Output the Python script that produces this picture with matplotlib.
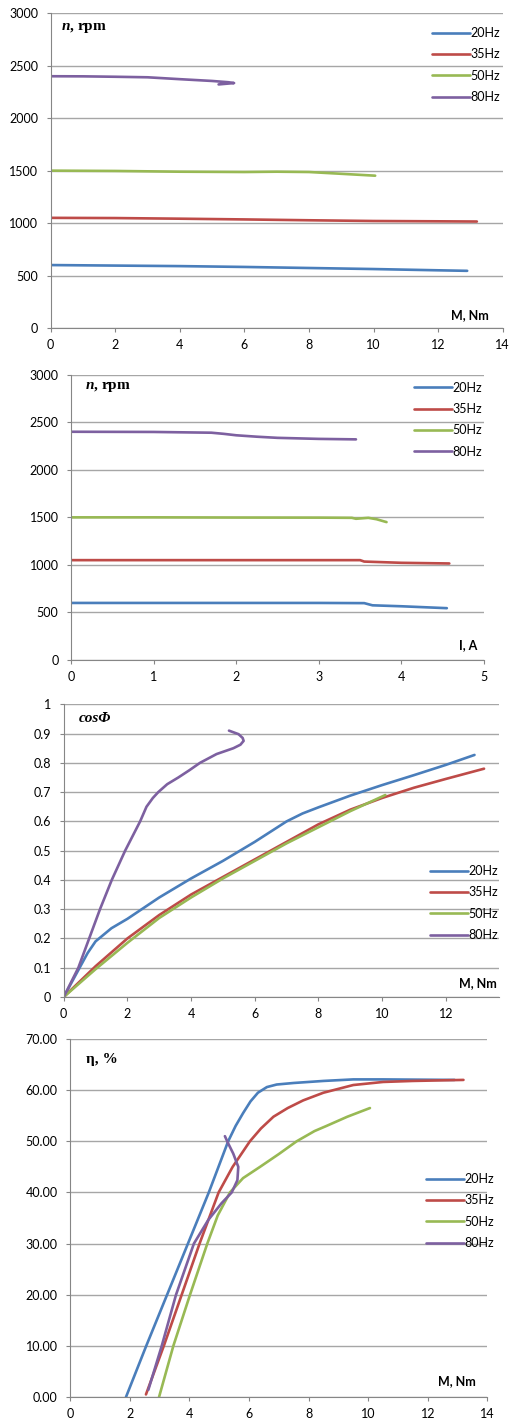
import matplotlib
matplotlib.use('Agg')
import matplotlib.pyplot as plt
import numpy as np

plt.rcParams['font.family'] = ['Lato', 'DejaVu Sans']
plt.rcParams['mathtext.fontset'] = 'custom'
plt.rcParams['mathtext.rm'] = 'Liberation Serif:bold'
plt.rcParams['mathtext.it'] = 'Liberation Serif:italic:bold'
plt.rcParams['mathtext.bf'] = 'Liberation Serif:bold'

W, H = 511, 1421
labels = ['20Hz', '35Hz', '50Hz', '80Hz']
colors = ['#4A7EBB', '#BE4B48', '#98B954', '#7D60A0']

# --- panel 1: n vs M
m1_20 = [0, 2, 4, 6, 8, 10, 12, 12.9]
n1_20 = [600, 595, 590, 582, 572, 562, 550, 545]
m1_35 = [0, 2, 4, 6, 8, 10, 12, 13.2]
n1_35 = [1050, 1048, 1042, 1035, 1027, 1020, 1017, 1015]
m1_50 = [0, 2, 4, 6, 7, 8, 9, 10.05]
n1_50 = [1500, 1497, 1490, 1487, 1490, 1487, 1470, 1452]
m1_80 = [0, 1, 2, 3, 4, 5, 5.5, 5.68, 5.2]
n1_80 = [2400, 2399, 2395, 2390, 2372, 2355, 2343, 2335, 2322]

# --- panel 2: n vs I
i2_20 = [0, 1, 2, 3, 3.55, 3.65, 4.0, 4.55]
n2_20 = [600, 600, 600, 600, 598, 575, 565, 545]
i2_35 = [0, 1, 2, 3, 3.5, 3.55, 4.0, 4.58]
n2_35 = [1050, 1050, 1050, 1050, 1050, 1035, 1022, 1015]
i2_50 = [0, 1, 2, 3, 3.4, 3.45, 3.6, 3.7, 3.82]
n2_50 = [1500, 1500, 1498, 1497, 1495, 1485, 1495, 1480, 1450]
i2_80 = [0, 1, 1.7, 1.85, 2.0, 2.25, 2.5, 3.0, 3.45]
n2_80 = [2400, 2398, 2390, 2378, 2363, 2348, 2336, 2325, 2320]

# --- panel 3: cos phi vs M
m3_20 = [0, 0.25, 0.5, 0.75, 1, 1.5, 2, 3, 4, 5, 6, 6.5, 7, 7.5, 8, 9, 10, 11, 12, 12.9]
c3_20 = [0, 0.05, 0.10, 0.15, 0.19, 0.235, 0.267, 0.34, 0.405, 0.465, 0.53, 0.565, 0.60,
         0.627, 0.648, 0.688, 0.724, 0.758, 0.793, 0.827]
m3_35 = [0, 1, 2, 3, 4, 5, 6, 7, 8, 9, 10, 11, 12, 13.2]
c3_35 = [0, 0.105, 0.20, 0.28, 0.35, 0.41, 0.47, 0.53, 0.59, 0.64, 0.68, 0.715, 0.745, 0.78]
m3_50 = [0, 1, 2, 3, 4, 5, 6, 7, 8, 9, 10.1]
c3_50 = [0, 0.095, 0.185, 0.27, 0.34, 0.405, 0.465, 0.525, 0.58, 0.635, 0.69]
m3_80 = [0, 0.46, 0.8, 1.14, 1.51, 1.93, 2.4, 2.6, 2.8, 2.97, 3.25, 3.6, 3.95, 4.28,
         4.8, 5.33, 5.55, 5.65, 5.62, 5.49, 5.19]
c3_80 = [0, 0.10, 0.20, 0.30, 0.40, 0.50, 0.60, 0.65, 0.68, 0.70, 0.727, 0.75, 0.775, 0.80,
         0.83, 0.85, 0.862, 0.875, 0.885, 0.898, 0.91]

# --- panel 4: efficiency vs M
m4_20 = [1.87, 2.55, 3.25, 3.95, 4.65, 5.30, 5.55, 5.8, 6.05, 6.3, 6.6, 6.93, 7.5, 8.5, 9.5, 10.5, 12.9]
e4_20 = [0, 10, 20, 30, 40, 50, 53, 55.5, 57.8, 59.5, 60.6, 61.1, 61.4, 61.8, 62.1, 62.1, 62]
m4_35 = [2.54, 3.14, 3.74, 4.34, 4.98, 5.45, 6.03, 6.4, 6.82, 7.3, 7.82, 8.5, 9.5, 10.5, 11.5, 13.2]
e4_35 = [0.5, 10, 20, 30, 40, 45, 50, 52.5, 54.8, 56.5, 58, 59.5, 61, 61.6, 61.8, 62]
m4_50 = [2.98, 3.46, 4.02, 4.60, 4.95, 5.36, 5.8, 6.37, 7, 7.6, 8.2, 8.6, 9.3, 10.06]
e4_50 = [0, 10, 20, 30, 35.5, 40, 42.8, 45, 47.5, 50, 52, 53, 54.8, 56.5]
m4_80 = [2.62, 3.07, 3.55, 4.15, 4.63, 5.08, 5.42, 5.61, 5.64, 5.47, 5.30, 5.19]
e4_80 = [1.4, 10, 20, 30, 34.6, 37.9, 40, 42.4, 45, 47.6, 49.6, 51]

fig = plt.figure(figsize=(W / 100, H / 100), dpi=100)


def fx(x):
    return x / W


def fy(y):
    return 1 - y / H


def make_ax(left, top, right, bottom):
    ax = fig.add_axes([fx(left), fy(bottom), fx(right - left), fy(top) - fy(bottom)])
    for s in ['top', 'right']:
        ax.spines[s].set_visible(False)
    for s in ['left', 'bottom']:
        ax.spines[s].set_color('#868686')
    ax.grid(True, axis='y', color='#A6A6A6', linewidth=1.0)
    ax.set_axisbelow(True)
    ax.tick_params(axis='both', colors='#868686', labelcolor='black', labelsize=9,
                   length=3, width=0.8)
    ax.tick_params(axis='y', pad=6)
    ax.tick_params(axis='x', pad=5)
    return ax


def draw(ax, xs, ys):
    for x, y, lab, c in zip(xs, ys, labels, colors):
        ax.plot(x, y, color=c, linewidth=1.9, label=lab,
                solid_capstyle='round', solid_joinstyle='round')


def legend(ax, x, y):
    ax.legend(loc='upper left', bbox_to_anchor=(fx(x), fy(y)), bbox_transform=fig.transFigure,
              frameon=False, fontsize=9, handlelength=3.0, handletextpad=0.1,
              labelspacing=0.75, borderpad=0, borderaxespad=0)


# panel 1
ax1 = make_ax(50.7, 13.3, 502.7, 328)
draw(ax1, [m1_20, m1_35, m1_50, m1_80], [n1_20, n1_35, n1_50, n1_80])
ax1.set_xlim(0, 14)
ax1.set_ylim(0, 3000)
ax1.set_xticks(range(0, 15, 2))
ax1.set_yticks(range(0, 3001, 500))
legend(ax1, 432, 27)
fig.text(fx(61), fy(27.7), r'$\mathit{n}$, rpm', family='Liberation Serif', weight='bold',
         fontsize=11, va='center', ha='left')
fig.text(fx(489), fy(315), 'M, Nm', weight='bold', fontsize=9, va='center', ha='right')

# panel 2
ax2 = make_ax(71, 374.7, 484, 660)
draw(ax2, [i2_20, i2_35, i2_50, i2_80], [n2_20, n2_35, n2_50, n2_80])
ax2.set_xlim(0, 5)
ax2.set_ylim(0, 3000)
ax2.set_xticks(range(0, 6))
ax2.set_yticks(range(0, 3001, 500))
legend(ax2, 414, 381.5)
fig.text(fx(85), fy(386.7), r'$\mathit{n}$, rpm', family='Liberation Serif', weight='bold',
         fontsize=11, va='center', ha='left')
fig.text(fx(477.7), fy(645), 'I, A', weight='bold', fontsize=9, va='center', ha='right')

# panel 3
ax3 = make_ax(63.7, 704.3, 498.7, 997)
draw(ax3, [m3_20, m3_35, m3_50, m3_80], [c3_20, c3_35, c3_50, c3_80])
ax3.set_xlim(0, 13.66)
ax3.set_ylim(0, 1)
ax3.set_xticks(range(0, 13, 2))
ax3.set_yticks(np.arange(0, 11) / 10)
ax3.set_yticklabels(['0', '0.1', '0.2', '0.3', '0.4', '0.5', '0.6', '0.7', '0.8', '0.9', '1'])
legend(ax3, 430, 865)
fig.text(fx(79), fy(719), 'cosΦ', family='Liberation Serif', weight='bold',
         style='italic', fontsize=11, va='center', ha='left')
fig.text(fx(496.7), fy(982.7), 'M, Nm', weight='bold', fontsize=9, va='center', ha='right')

# panel 4
ax4 = make_ax(70.3, 1039, 487.3, 1397)
draw(ax4, [m4_20, m4_35, m4_50, m4_80], [e4_20, e4_35, e4_50, e4_80])
ax4.set_xlim(0, 14)
ax4.set_ylim(0, 70)
ax4.set_xticks(range(0, 15, 2))
ax4.set_yticks(range(0, 71, 10))
ax4.set_yticklabels(['%.2f' % v for v in range(0, 71, 10)])
legend(ax4, 426, 1173)
fig.text(fx(85.7), fy(1059), 'η, %', family='Liberation Serif', weight='bold',
         fontsize=11, va='center', ha='left')
fig.text(fx(476), fy(1380.7), 'M, Nm', weight='bold', fontsize=9, va='center', ha='right')

fig.savefig('out.png', dpi=100)
